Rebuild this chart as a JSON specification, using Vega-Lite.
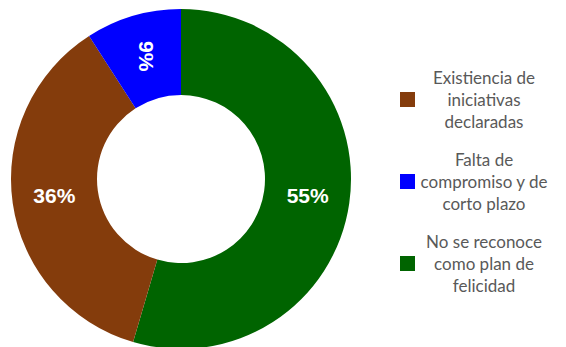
{
  "$schema": "https://vega.github.io/schema/vega-lite/v6.json",
  "width": 362,
  "height": 340,
  "autosize": {"type": "none"},
  "padding": {"left": 0, "top": 9, "right": 204, "bottom": 0},
  "background": "white",
  "view": {"stroke": null},
  "config": {"style": {"guide-label": {"lineHeight": 22, "dy": -12}}},
  "data": {"values": [
    {"cat": "No se reconoce como plan de felicidad", "n": 6, "label": "55%", "o": 1},
    {"cat": "Existiencia de iniciativas declaradas", "n": 4, "label": "36%", "o": 2},
    {"cat": "Falta de compromiso y de corto plazo", "n": 1, "label": "9%", "o": 3}
  ]},
  "encoding": {
    "theta": {"field": "n", "type": "quantitative", "stack": true},
    "order": {"field": "o", "type": "quantitative"}
  },
  "layer": [
    {
      "mark": {"type": "arc", "outerRadius": 170, "innerRadius": 84},
      "encoding": {
        "color": {
          "field": "cat", "type": "nominal",
          "scale": {
            "domain": ["Existiencia de iniciativas declaradas", "Falta de compromiso y de corto plazo", "No se reconoce como plan de felicidad"],
            "range": ["#843C0C", "#0000FF", "#006400"]
          },
          "legend": {
            "title": null,
            "orient": "none",
            "legendX": 399,
            "legendY": 82,
            "symbolType": "square",
            "symbolSize": 225,
            "symbolStrokeWidth": 0,
            "labelFont": "Lato",
            "labelFontSize": 17,
            "labelColor": "#595959",
            "labelAlign": "center",
            "labelBaseline": "bottom",
            "labelOffset": 68,
            "labelLimit": 300,
            "rowPadding": 20,
            "labelExpr": "datum.label == 'Existiencia de iniciativas declaradas' ? ['Existiencia de', 'iniciativas', 'declaradas'] : datum.label == 'Falta de compromiso y de corto plazo' ? ['Falta de', 'compromiso y de', 'corto plazo'] : ['No se reconoce', 'como plan de', 'felicidad']"
          }
        }
      }
    },
    {
      "mark": {"type": "text", "radius": 128, "font": "Liberation Sans", "fontWeight": "bold", "fontSize": 21, "fill": "white"},
      "encoding": {
        "text": {"field": "label"},
        "angle": {"condition": {"test": "datum.o == 3", "value": 90}, "value": 0}
      }
    }
  ]
}
